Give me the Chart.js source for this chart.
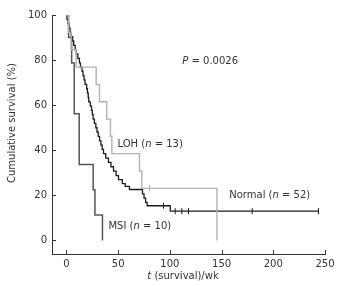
<!DOCTYPE html>
<html>
<head>
<meta charset="utf-8">
<script src="https://cdn.jsdelivr.net/npm/chart.js@4/dist/chart.umd.min.js"></script>
<style>
html, body { margin: 0; padding: 0; background: #fff; }
canvas { display: block; }
</style>
</head>
<body>
<canvas id="km" width="350" height="286"></canvas>
<script>
// Kaplan-Meier křivky (čas v týdnech, přežití v %)
const normalT = [0, 0.5, 1.5, 2.5, 3.5, 4.5, 6, 7, 8.5, 9.5, 11, 12.5, 13.5, 15, 16, 17, 18, 19.5, 20.3, 21, 21.5, 23, 24.2, 25, 25.8, 27, 28.4, 29.5, 30.7, 32, 33.3, 34.5, 35.8, 38, 40.6, 43, 45.5, 48, 50.3, 54, 56.8, 60.9, 73.5, 75, 76.5, 78, 100.3, 243.7];
const normalS = [100, 98.1, 96.2, 94.2, 92.3, 90.4, 88.5, 86.5, 84.6, 82.7, 80.8, 78.8, 76.9, 75.0, 73.1, 71.2, 69.2, 67.3, 65.4, 63.5, 61.5, 59.6, 57.7, 55.8, 53.8, 51.9, 50.0, 48.1, 46.2, 44.2, 42.3, 40.4, 38.5, 36.5, 34.6, 32.7, 30.8, 28.8, 27.0, 25.2, 24.0, 22.6, 20.7, 18.8, 16.9, 15.4, 13.0, 13.0];
const normalCensT = [93.8, 105.1, 111.6, 118, 179.6, 243.7];
const normalCensS = [15.4, 13.0, 13.0, 13.0, 13.0, 13.0];

const lohT = [0, 2, 4.5, 9.4, 28.7, 31.9, 38.9, 42.5, 43.9, 70.6, 72.9, 145.5];
const lohS = [100, 92.3, 84.6, 76.9, 69.2, 61.5, 53.8, 46.2, 38.5, 30.8, 23.1, 0];
const lohCensT = [80.3];
const lohCensS = [23.1];

const msiT = [0, 2, 5, 7.5, 12.3, 25.8, 27.5, 34.8];
const msiS = [100, 90, 78.75, 56.25, 33.75, 22.5, 11.25, 0];

const xTicks = [0, 50, 100, 150, 200, 250];
const yTicks = [0, 20, 40, 60, 80, 100];

// popisky v grafu: [text, kurzíva]
const notes = [
    { parts: [['P', true], [' = 0.0026', false]], t: 112, s: 79.6 },
    { parts: [['LOH (', false], ['n', true], [' = 13)', false]], t: 49.3, s: 42.6 },
    { parts: [['Normal (', false], ['n', true], [' = 52)', false]], t: 157.4, s: 20.1 },
    { parts: [['MSI (', false], ['n', true], [' = 10)', false]], t: 40.6, s: 6.1 },
];

const FONT = '"DejaVu Sans", Verdana, sans-serif';
const INK = '#333';

const pts = (ts, ss) => ts.map((t, i) => ({ x: t, y: ss[i] }));

function kmLine(label, ts, ss, color, width) {
    return {
        label, data: pts(ts, ss), stepped: 'before',
        borderColor: color, borderWidth: width, pointRadius: 0, fill: false,
    };
}
function censor(label, ts, ss, color) {
    return {
        type: 'scatter', label, data: pts(ts, ss), showLine: false,
        pointStyle: 'line', rotation: 90, pointRadius: 3, pointHoverRadius: 3,
        borderColor: color, borderWidth: 1,
    };
}

function drawRich(ctx, parts, x, y, align) {
    const fontOf = (it) => (it ? 'italic ' : '') + '10px ' + FONT;
    let w = 0;
    parts.forEach(([txt, it]) => { ctx.font = fontOf(it); w += ctx.measureText(txt).width; });
    let cx = align === 'center' ? x - w / 2 : x;
    ctx.textAlign = 'left';
    ctx.textBaseline = 'middle';
    parts.forEach(([txt, it]) => {
        ctx.font = fontOf(it);
        ctx.fillText(txt, cx, y);
        cx += ctx.measureText(txt).width;
    });
}

// vnitřní značky os + texty
const extras = {
    id: 'extras',
    afterDraw(chart) {
        const { ctx, chartArea: a, scales: { x, y } } = chart;
        ctx.save();
        ctx.strokeStyle = INK;
        ctx.lineWidth = 1;
        ctx.beginPath();
        xTicks.forEach((v) => {
            const px = Math.round(x.getPixelForValue(v)) + 0.5;
            ctx.moveTo(px, a.bottom); ctx.lineTo(px, a.bottom - 4);
        });
        yTicks.forEach((v) => {
            const py = Math.round(y.getPixelForValue(v)) + 0.5;
            ctx.moveTo(a.left, py); ctx.lineTo(a.left + 4, py);
        });
        ctx.stroke();

        ctx.fillStyle = INK;
        notes.forEach((n) => drawRich(ctx, n.parts, x.getPixelForValue(n.t), y.getPixelForValue(n.s), 'left'));

        drawRich(ctx, [['t', true], [' (survival)/wk', false]], 183, 276, 'center');

        ctx.translate(12.5, 123);
        ctx.rotate(-Math.PI / 2);
        drawRich(ctx, [['Cumulative survival (%)', false]], 0, 0, 'center');
        ctx.restore();
    },
};

new Chart(document.getElementById('km'), {
    type: 'line',
    data: {
        datasets: [
            kmLine('LOH', lohT, lohS, '#b3b3b3', 1.4),
            kmLine('MSI', msiT, msiS, '#555', 1.5),
            kmLine('Normal', normalT, normalS, '#1c1c1c', 1.3),
            censor('LOH cens', lohCensT, lohCensS, '#b3b3b3'),
            censor('Normal cens', normalCensT, normalCensS, '#1c1c1c'),
        ],
    },
    options: {
        responsive: false,
        devicePixelRatio: 1,
        animation: false,
        layout: { padding: { top: 15, right: 25, left: 0, bottom: 0 } },
        plugins: { legend: { display: false }, tooltip: { enabled: false } },
        scales: {
            x: {
                type: 'linear', min: -14, max: 250,
                afterBuildTicks: (s) => { s.ticks = xTicks.map((v) => ({ value: v })); },
                afterFit: (s) => { s.height = 32; },
                grid: { display: false, drawTicks: false, tickLength: 0 },
                border: { display: true, color: INK, width: 1 },
                ticks: { padding: 4, color: INK, font: { family: FONT, size: 10 }, maxRotation: 0 },
            },
            y: {
                type: 'linear', min: -6, max: 100,
                afterBuildTicks: (s) => { s.ticks = yTicks.map((v) => ({ value: v })); },
                afterFit: (s) => { s.width = 52; },
                grid: { display: false, drawTicks: false, tickLength: 0 },
                border: { display: true, color: INK, width: 1 },
                ticks: { padding: 5, color: INK, font: { family: FONT, size: 10 } },
            },
        },
    },
    plugins: [extras],
});
</script>
</body>
</html>
